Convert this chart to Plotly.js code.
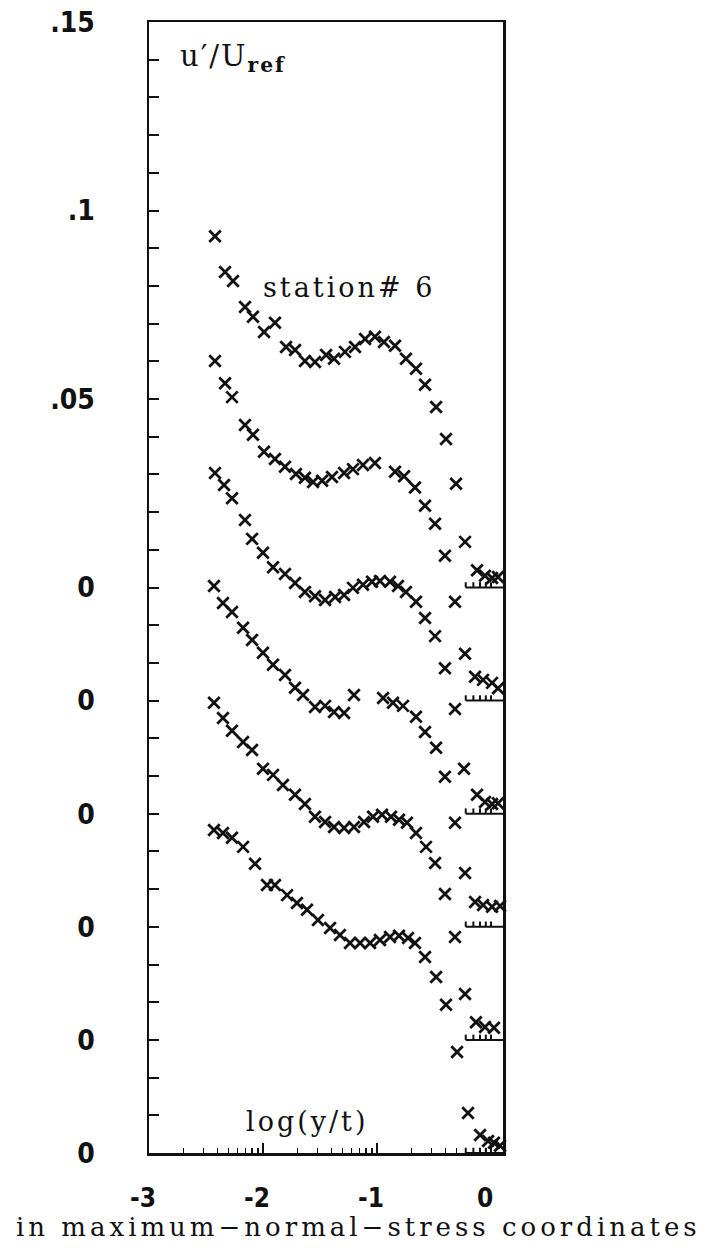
<!DOCTYPE html>
<html><head><meta charset="utf-8">
<script src="https://cdn.plot.ly/plotly-3.0.1.min.js"></script>
<style>html,body{margin:0;padding:0;background:#fff;} #chart{width:714px;height:1249px;}</style>
</head><body><div id="chart"></div>
<script>
// ---- data ----
// zero of each profile on the shared u'/Uref axis
const offsets = [0, -0.03, -0.06, -0.09, -0.12, -0.15];

// profile 1 (top)
const x1 = [-2.421,-2.333,-2.263,-2.158,-2.088,-1.991,-1.895,-1.798,-1.719,-1.632,-1.544,-1.447,-1.377,-1.281,-1.193,-1.105,-1.018,-0.939,-0.842,-0.746,-0.658,-0.579,-0.482,-0.395,-0.307,-0.228,-0.123,-0.053,0.009,0.061];
const u1 = [0.0932,0.0837,0.0813,0.0744,0.0718,0.0678,0.0702,0.0638,0.0630,0.0601,0.0598,0.0617,0.0607,0.0625,0.0638,0.0659,0.0665,0.0651,0.0641,0.0607,0.0580,0.0538,0.0479,0.0394,0.0275,0.0121,0.0046,0.0031,0.0025,0.0028];
// profile 2
const x2 = [-2.421,-2.333,-2.272,-2.158,-2.088,-1.991,-1.895,-1.807,-1.711,-1.632,-1.561,-1.482,-1.395,-1.289,-1.211,-1.123,-1.018,-0.842,-0.763,-0.667,-0.579,-0.491,-0.404,-0.316,-0.228,-0.140,-0.070,0.009,0.061,0.193];
const u2 = [0.0901,0.0842,0.0805,0.0731,0.0705,0.0660,0.0641,0.0620,0.0601,0.0591,0.0580,0.0583,0.0593,0.0604,0.0614,0.0625,0.0630,0.0607,0.0595,0.0565,0.0517,0.0469,0.0384,0.0262,0.0124,0.0063,0.0055,0.0047,0.0033,0.0033];
// profile 3
const x3 = [-2.421,-2.342,-2.272,-2.158,-2.096,-2.000,-1.912,-1.807,-1.719,-1.632,-1.544,-1.456,-1.368,-1.289,-1.211,-1.123,-1.044,-0.974,-0.886,-0.816,-0.746,-0.658,-0.579,-0.491,-0.404,-0.316,-0.237,-0.123,-0.053,0.009,0.061];
const u3 = [0.0904,0.0872,0.0837,0.0779,0.0729,0.0692,0.0654,0.0636,0.0612,0.0588,0.0577,0.0567,0.0575,0.0580,0.0599,0.0607,0.0615,0.0617,0.0615,0.0604,0.0588,0.0562,0.0519,0.0471,0.0386,0.0278,0.0119,0.0050,0.0031,0.0026,0.0028];
// profile 4
const x4 = [-2.430,-2.351,-2.272,-2.175,-2.096,-2.000,-1.912,-1.807,-1.719,-1.649,-1.544,-1.456,-1.377,-1.289,-1.202,-0.947,-0.860,-0.772,-0.658,-0.579,-0.482,-0.404,-0.316,-0.228,-0.140,-0.070,0.009,0.079,0.193];
const u4 = [0.0904,0.0859,0.0835,0.0793,0.0761,0.0727,0.0695,0.0668,0.0634,0.0615,0.0583,0.0586,0.0570,0.0567,0.0615,0.0607,0.0594,0.0586,0.0557,0.0517,0.0475,0.0398,0.0276,0.0143,0.0066,0.0058,0.0053,0.0055,0.0055];
// profile 5
const x5 = [-2.430,-2.351,-2.272,-2.175,-2.096,-2.000,-1.912,-1.825,-1.719,-1.632,-1.544,-1.456,-1.377,-1.289,-1.202,-1.114,-1.035,-0.956,-0.877,-0.807,-0.737,-0.658,-0.570,-0.491,-0.404,-0.316,-0.228,-0.132,-0.053,0.026,0.123,0.211];
const u5 = [0.0894,0.0854,0.0820,0.0790,0.0769,0.0719,0.0703,0.0676,0.0650,0.0626,0.0592,0.0578,0.0565,0.0562,0.0565,0.0578,0.0592,0.0597,0.0592,0.0584,0.0576,0.0549,0.0512,0.0469,0.0387,0.0273,0.0122,0.0047,0.0034,0.0032,0.0032,0.0029];
// profile 6 (bottom)
const x6 = [-2.430,-2.351,-2.272,-2.175,-2.070,-1.965,-1.895,-1.789,-1.702,-1.614,-1.518,-1.412,-1.325,-1.237,-1.149,-1.061,-0.974,-0.886,-0.807,-0.728,-0.667,-0.579,-0.482,-0.395,-0.298,-0.202,-0.096,-0.026,0.026,0.079];
const u6 = [0.0857,0.0849,0.0836,0.0812,0.0767,0.0711,0.0711,0.0684,0.0663,0.0645,0.0618,0.0597,0.0578,0.0557,0.0557,0.0557,0.0565,0.0573,0.0576,0.0570,0.0557,0.0520,0.0467,0.0393,0.0268,0.0106,0.0048,0.0032,0.0027,0.0019];

// tick labels
const yLabelVals = [0.15, 0.10, 0.05, 0, -0.03, -0.06, -0.09, -0.12, -0.15];
const yLabelText = ['.15', '.1', '.05', '0', '0', '0', '0', '0', '0'];
const xTickVals = [-3, -2, -1, 0];
const xTickText = ['-3', '-2', '-1', '0'];
// y/t values marked on each profile's zero reference
const baseMarks = [0.6, 0.7, 0.8, 0.9, 1.0];

// ---- drawing ----
const xs = [x1, x2, x3, x4, x5, x6];
const us = [u1, u2, u3, u4, u5, u6];
const INK = '#111';
const XMAX = 0.105;

const traces = [];
// zero reference segments with small ticks
const bx = [], by = [];
const tickH = 0.0014;
offsets.forEach(off => {
  bx.push(Math.log10(baseMarks[0]), XMAX, null);
  by.push(off, off, null);
  baseMarks.forEach(m => {
    const lx = Math.log10(m);
    bx.push(lx, lx, null);
    by.push(off, off + tickH, null);
  });
});
traces.push({x: bx, y: by, mode: 'lines', line: {color: INK, width: 2}, hoverinfo: 'skip', cliponaxis: false});

xs.forEach((xv, i) => {
  traces.push({
    x: xv,
    y: us[i].map(v => v + offsets[i]),
    mode: 'markers',
    cliponaxis: false,
    marker: {symbol: 'x-thin', size: 11.5, color: INK, line: {color: INK, width: 2.8}}
  });
});

// unlabelled y ticks every 0.01
const yMinor = [];
for (let k = -15; k <= 15; k++) {
  const v = k / 100;
  if (!yLabelVals.some(t => Math.abs(t - v) < 1e-9)) yMinor.push(v);
}
// log minor ticks on x
const xMinor = [];
[-3, -2, -1].forEach(d => { for (let k = 2; k <= 9; k++) xMinor.push(d + Math.log10(k)); });

const tickFont = {family: '"Liberation Sans Narrow", "DejaVu Sans Condensed", "Arial Narrow", sans-serif', size: 28, color: INK, weight: 'bold'};
const xTickFont = Object.assign({}, tickFont, {size: 26});
const serif = '"DejaVu Serif", "Liberation Serif", serif';

function px2paperX(px) { return (px - 149) / 354; }
function px2paperY(py) { return (1153 - py) / 1131; }

const layout = {
  width: 714, height: 1249,
  margin: {l: 149, r: 211, t: 22, b: 96, pad: 0},
  paper_bgcolor: '#fff', plot_bgcolor: '#fff',
  showlegend: false,
  xaxis: {
    range: [-3, XMAX], showline: true, mirror: true, linewidth: 2.5, linecolor: INK,
    showgrid: false, zeroline: false,
    tickmode: 'array', tickvals: xTickVals, ticktext: xTickText,
    ticks: 'inside', ticklen: 10, tickwidth: 2, tickcolor: INK,
    minor: {tickmode: 'array', tickvals: xMinor, ticks: 'inside', ticklen: 5, tickwidth: 1.5, tickcolor: INK, showgrid: false},
    tickfont: xTickFont, ticklabelstandoff: 20, ticklabelshift: -6
  },
  yaxis: {
    range: [-0.15, 0.15], showline: true, mirror: true, linewidth: 2.5, linecolor: INK,
    showgrid: false, zeroline: false,
    tickmode: 'array', tickvals: yLabelVals, ticktext: yLabelText,
    ticks: 'inside', ticklen: 10, tickwidth: 2, tickcolor: INK,
    minor: {tickmode: 'array', tickvals: yMinor, ticks: 'inside', ticklen: 10, tickwidth: 2, tickcolor: INK, showgrid: false},
    tickfont: tickFont, ticklabelstandoff: 46
  },
  annotations: [
    {xref: 'paper', yref: 'paper', x: px2paperX(178), y: px2paperY(58), xanchor: 'left', yanchor: 'middle', showarrow: false,
     text: '<span style="letter-spacing:2px">u′/U<sub><b>ref</b></sub></span>', font: {family: serif, size: 29, color: INK}},
    {xref: 'paper', yref: 'paper', x: px2paperX(261), y: px2paperY(287), xanchor: 'left', yanchor: 'middle', showarrow: false,
     text: '<span style="letter-spacing:3px">station# 6</span>', font: {family: serif, size: 27, color: INK}},
    {xref: 'paper', yref: 'paper', x: px2paperX(244), y: px2paperY(1121), xanchor: 'left', yanchor: 'middle', showarrow: false,
     text: '<span style="letter-spacing:3px">log(y/t)</span>', font: {family: serif, size: 27, color: INK}},
    {xref: 'paper', yref: 'paper', x: px2paperX(14), y: px2paperY(1227), xanchor: 'left', yanchor: 'middle', showarrow: false,
     text: '<span style="letter-spacing:4px">in maximum−normal−stress coordinates</span>', font: {family: serif, size: 26, color: INK}}
  ]
};

Plotly.newPlot('chart', traces, layout, {staticPlot: true, displayModeBar: false});
</script>
</body></html>
